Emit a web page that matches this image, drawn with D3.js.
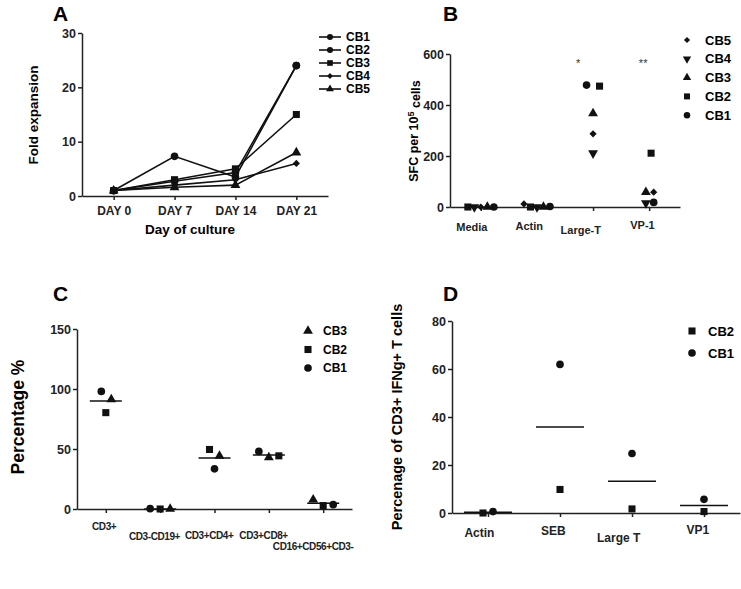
<!DOCTYPE html>
<html>
<head>
<meta charset="utf-8">
<script src="https://cdn.jsdelivr.net/npm/d3@7"></script>
<style>
  body { margin: 0; background: #fff; }
  svg { font-family: 'Liberation Sans', Arial, sans-serif; font-weight: bold; }
  .axis path, .axis line { stroke: #222; stroke-width: 1.5; }
  .axis text { fill: #222; font-weight: bold; }
</style>
</head>
<body>
<div class="graph"></div>
<script>
// panel A - fold expansion
var daysA = ['DAY 0', 'DAY 7', 'DAY 14', 'DAY 21'];
var namesA = ['CB1', 'CB2', 'CB3', 'CB4', 'CB5'];
var cb1A = [1, 7.3, 3.5, 24];
var cb2A = [1, 2.7, 4.3, 24];
var cb3A = [1, 3, 5, 15];
var cb4A = [1, 2, 3, 6];
var cb5A = [1, 1.6, 2, 8];
var ticksA = [0, 10, 20, 30];

// panel B - ELISpot
var catsB = ['Media', 'Actin', 'Large-T', 'VP-1'];
var namesB = ['CB1', 'CB2', 'CB3', 'CB4', 'CB5'];
var cb1B = [0, 2, 478, 18];
var cb2B = [0, 0, 474, 211];
var cb3B = [0, 0, 367, 58];
var cb4B = [0, 0, 211, 15];
var cb5B = [0, 12, 287, 58];
var starsB = ['', '', '*', '**'];
var ticksB = [0, 200, 400, 600];
// dot spread inside each cluster (in dot widths)
var slotB = [[2, 2, -1, 0.7], [-2, -1, 1, 0.3], [1, 1, 0, -0.5], [-1, 0, 0, -0.5], [0, -2, 0, 0.7]];

// panel C - phenotype
var catsC = ['CD3+', 'CD3-CD19+', 'CD3+CD4+', 'CD3+CD8+', 'CD16+CD56+CD3-'];
var namesC = ['CB1', 'CB2', 'CB3'];
var cb1C = [98, 0.3, 33.5, 48, 3.6];
var cb2C = [80.3, 0, 49.6, 44.3, 2.8];
var cb3C = [91.4, 0, 44.3, 42.9, 7.8];
var ticksC = [0, 50, 100, 150];
var slotC = [[-0.45, -1, 0, -1, 1], [0, 0, -0.5, 1, 0], [0.55, 1, 0.5, 0, -1]];

// panel D - intracellular IFNg
var catsD = ['Actin', 'SEB', 'Large T', 'VP1'];
var namesD = ['CB1', 'CB2'];
var cb1D = [0.6, 61.9, 24.8, 5.7];
var cb2D = [0, 9.8, 1.7, 0.6];
var ticksD = [0, 20, 40, 60, 80];
var slotD = [[0.5, 0, 0, 0], [-0.5, 0, 0, 0]];

var shapes = {
  circle: d3.symbol().type(d3.symbolCircle).size(46),
  square: d3.symbol().type(d3.symbolSquare).size(50),
  triangle: d3.symbol().type(d3.symbolTriangle).size(42),
  diamond: d3.symbol().type(d3.symbolSquare).size(26)
};
var markA = ['circle', 'circle', 'square', 'diamond', 'triangle'];
var markB = ['circle', 'square', 'triangle', 'triangleDown', 'diamond'];

function symbolPath(kind) {
  if (kind == 'triangleDown') return shapes.triangle();
  return shapes[kind]();
}
function symbolRot(kind) {
  if (kind == 'triangleDown') return ' rotate(180)';
  if (kind == 'diamond') return ' rotate(45)';
  return '';
}

var svg = d3.select('.graph')
            .append('svg')
            .attr('width', 741)
            .attr('height', 589);

function panelLetter(t, x, y) {
  svg.append('text').attr('x', x).attr('y', y).style('font-size', '21px').text(t);
}

function yLabel(t, x, y, size) {
  return svg.append('text')
            .attr('transform', 'translate(' + x + ',' + y + ') rotate(-90)')
            .attr('text-anchor', 'middle')
            .style('font-size', size + 'px')
            .text(t);
}

// slant: how far a label is pulled left (share of its length); null = plain axis labels
function drawAxes(x, y, yTicks, slant, xFont, spacing) {
  var left = x.range()[0];
  var base = y(0);
  var xAxis = d3.axisBottom(x).tickSize(4).tickSizeOuter(0).tickPadding(6);
  if (slant) xAxis.tickFormat('');
  var gx = svg.append('g')
              .attr('class', 'axis')
              .attr('transform', 'translate(0,' + base + ')')
              .call(xAxis);
  gx.selectAll('text').style('font-size', xFont + 'px');
  if (slant) {
    // labels sit about where a 45deg label hanging off the tick would be centred
    svg.append('g')
       .selectAll('text')
       .data(x.domain())
       .enter()
       .append('text')
       .attr('text-anchor', 'middle')
       .attr('fill', '#222')
       .style('font-size', xFont + 'px')
       .style('letter-spacing', (spacing || 0) + 'px')
       .text(function(d) { return d; })
       .each(function(d) {
         var len = this.getComputedTextLength();
         d3.select(this)
           .attr('x', x(d) + 2 - len * slant)
           .attr('y', base + 9 + len * 0.354 + xFont * 0.35);
       });
  }
  svg.append('g')
     .attr('class', 'axis')
     .attr('transform', 'translate(' + left + ',0)')
     .call(d3.axisLeft(y).tickValues(yTicks).tickSize(4).tickSizeOuter(0).tickPadding(2))
     .selectAll('text').style('font-size', '12.5px');
}

// ---------- A ----------
(function() {
  var x = d3.scalePoint().domain(daysA).range([82, 328]).padding(0.52);
  var y = d3.scaleLinear().domain([0, 30]).range([196, 33]);
  var series = [cb1A, cb2A, cb3A, cb4A, cb5A];

  drawAxes(x, y, ticksA, null, 12);
  panelLetter('A', 53, 21);
  yLabel('Fold expansion', 38, 115, 13.5);
  svg.append('text').attr('x', 190).attr('y', 234).attr('text-anchor', 'middle')
     .style('font-size', '13.5px').text('Day of culture');

  var line = d3.line().x(function(d, i) { return x(daysA[i]); }).y(function(d) { return y(d); });

  series.forEach(function(vals, s) {
    svg.append('path')
       .attr('d', line(vals))
       .attr('fill', 'none')
       .attr('stroke', '#111')
       .attr('stroke-width', 1.6);
    svg.selectAll('.mA' + s)
       .data(vals)
       .enter()
       .append('path')
       .attr('d', symbolPath(markA[s]))
       .attr('fill', '#111')
       .attr('transform', function(d, i) { return 'translate(' + x(daysA[i]) + ',' + y(d) + ')' + symbolRot(markA[s]); });
  });

  var legend = svg.selectAll('.legA')
                  .data(namesA)
                  .enter()
                  .append('g')
                  .attr('transform', function(d, i) { return 'translate(319,' + (37 + i * 13) + ')'; });
  legend.append('line').attr('x1', 0).attr('x2', 22).attr('stroke', '#111').attr('stroke-width', 1.6);
  legend.append('path')
        .attr('d', function(d, i) { return symbolPath(markA[i]); })
        .attr('transform', function(d, i) { return 'translate(11,0) scale(0.8)' + symbolRot(markA[i]); })
        .attr('fill', '#111');
  legend.append('text').attr('x', 27).attr('dy', '0.36em').style('font-size', '12px').text(function(d) { return d; });
})();

// ---------- B ----------
(function() {
  var x = d3.scalePoint().domain(catsB).range([450, 680]).padding(0.55);
  var y = d3.scaleLinear().domain([0, 600]).range([207, 54]);
  var series = [cb1B, cb2B, cb3B, cb4B, cb5B];
  var starShift = [0, 0, -15, -6];

  drawAxes(x, y, ticksB, 0.354, 11);
  panelLetter('B', 443, 21);
  var lab = yLabel('', 418, 131, 12.5);
  lab.append('tspan').text('SFC per 10');
  lab.append('tspan').attr('dy', '-0.45em').style('font-size', '9px').text('5');
  lab.append('tspan').attr('dy', '0.45em').text(' cells');

  series.forEach(function(vals, s) {
    svg.selectAll('.mB' + s)
       .data(vals)
       .enter()
       .append('path')
       .attr('d', symbolPath(markB[s]))
       .attr('fill', '#111')
       .attr('transform', function(d, i) {
         return 'translate(' + (x(catsB[i]) + slotB[s][i] * 6.5) + ',' + y(d) + ')' + symbolRot(markB[s]);
       });
  });

  svg.selectAll('.star')
     .data(starsB)
     .enter()
     .append('text')
     .attr('x', function(d, i) { return x(catsB[i]) + starShift[i]; })
     .attr('y', 67)
     .attr('text-anchor', 'middle')
     .attr('fill', '#333')
     .style('font-size', '11px')
     .style('font-weight', 'normal')
     .text(function(d) { return d; });

  var order = [4, 3, 2, 1, 0];
  var legend = svg.selectAll('.legB')
                  .data(order)
                  .enter()
                  .append('g')
                  .attr('transform', function(d, i) { return 'translate(687,' + (40 + i * 18.8) + ')'; });
  legend.append('path')
        .attr('d', function(d) { return symbolPath(markB[d]); })
        .attr('transform', function(d) { return 'scale(0.85)' + symbolRot(markB[d]); })
        .attr('fill', '#111');
  legend.append('text').attr('x', 18).attr('dy', '0.36em').style('font-size', '13px').text(function(d) { return namesB[d]; });
})();

// ---------- C ----------
(function() {
  var x = d3.scalePoint().domain(catsC).range([77, 352]).padding(0.53);
  var y = d3.scaleLinear().domain([0, 150]).range([509, 329]);
  var series = [cb1C, cb2C, cb3C];
  var marks = ['circle', 'square', 'triangle'];

  drawAxes(x, y, ticksC, 0.15, 10, -0.4);
  panelLetter('C', 53, 301);
  yLabel('Percentage %', 24, 417, 17.5);

  catsC.forEach(function(c, i) {
    var mean = d3.mean(series, function(vals) { return vals[i]; });
    svg.append('line')
       .attr('x1', x(c) - 16).attr('x2', x(c) + 16)
       .attr('y1', y(mean)).attr('y2', y(mean))
       .attr('stroke', '#111').attr('stroke-width', 1.5);
  });

  series.forEach(function(vals, s) {
    svg.selectAll('.mC' + s)
       .data(vals)
       .enter()
       .append('path')
       .attr('d', symbolPath(marks[s]))
       .attr('fill', '#111')
       .attr('transform', function(d, i) { return 'translate(' + (x(catsC[i]) + slotC[s][i] * 10) + ',' + y(d) + ')'; });
  });

  var legend = svg.selectAll('.legC')
                  .data([2, 1, 0])
                  .enter()
                  .append('g')
                  .attr('transform', function(d, i) { return 'translate(308,' + (331 + i * 18.5) + ')'; });
  legend.append('path').attr('d', function(d) { return symbolPath(marks[d]); }).attr('fill', '#111');
  legend.append('text').attr('x', 15).attr('dy', '0.36em').style('font-size', '12px').text(function(d) { return namesC[d]; });
})();

// ---------- D ----------
(function() {
  var x = d3.scalePoint().domain(catsD).range([452, 740]).padding(0.5);
  var y = d3.scaleLinear().domain([0, 80]).range([513, 321]);
  var series = [cb1D, cb2D];
  var marks = ['circle', 'square'];

  drawAxes(x, y, ticksD, 0.354, 12);
  panelLetter('D', 443, 301);
  yLabel('Percenage of CD3+ IFNg+ T cells', 402, 417, 14.5);

  catsD.forEach(function(c, i) {
    var mean = d3.mean(series, function(vals) { return vals[i]; });
    svg.append('line')
       .attr('x1', x(c) - 24).attr('x2', x(c) + 24)
       .attr('y1', y(mean)).attr('y2', y(mean))
       .attr('stroke', '#111').attr('stroke-width', 1.5);
  });

  series.forEach(function(vals, s) {
    svg.selectAll('.mD' + s)
       .data(vals)
       .enter()
       .append('path')
       .attr('d', symbolPath(marks[s]))
       .attr('fill', '#111')
       .attr('transform', function(d, i) { return 'translate(' + (x(catsD[i]) + slotD[s][i] * 10) + ',' + y(d) + ')'; });
  });

  var legend = svg.selectAll('.legD')
                  .data([1, 0])
                  .enter()
                  .append('g')
                  .attr('transform', function(d, i) { return 'translate(692,' + (331 + i * 22) + ')'; });
  legend.append('path').attr('d', function(d) { return symbolPath(marks[d]); }).attr('fill', '#111');
  legend.append('text').attr('x', 16).attr('dy', '0.36em').style('font-size', '13px').text(function(d) { return namesD[d]; });
})();
</script>
</body>
</html>
